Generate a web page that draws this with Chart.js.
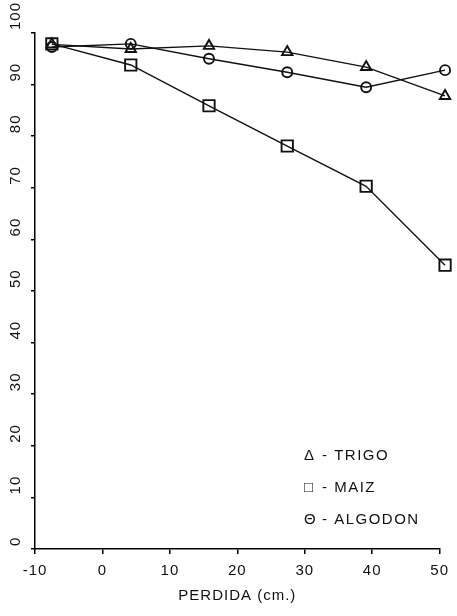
<!DOCTYPE html>
<html lang="es">
<head>
    <meta charset="UTF-8">
    <title>Perdida</title>
    <script src="https://cdn.jsdelivr.net/npm/chart.js"></script>
    <style>
        body { margin: 0; background: #fff; }
        #wrap { width: 457px; height: 616px; position: relative; }
    </style>
</head>
<body>
<div id="wrap"><canvas id="myCanvas"></canvas></div>
<script>
    // profundidad de perdida (cm.)
    const perdida = [-7.5, 4.2, 15.8, 27.4, 39.1, 50.8];
    const trigo   = [97.8, 96.9, 97.5, 96.3, 93.4, 87.8];
    const maiz    = [97.9, 93.8, 85.9, 78.1, 70.3, 55.0];
    const algodon = [97.3, 97.9, 95.0, 92.4, 89.5, 92.8];
    const yTicks  = [0, 10, 20, 30, 40, 50, 60, 70, 80, 90, 100];
    const leyenda = [['\u0394', '- TRIGO'], ['\u25A1', '- MAIZ'], ['\u0398', '- ALGODON']];

    const FONT = "'Liberation Sans', Arial, sans-serif";
    const INK = '#111';

    function pts(vals) {
        return vals.map((v, i) => ({ x: perdida[i], y: v }));
    }

    function serie(label, vals, style, radius) {
        return {
            label: label,
            data: pts(vals),
            borderColor: INK,
            borderWidth: 1.4,
            pointStyle: style,
            pointRadius: radius,
            pointHoverRadius: radius,
            pointBorderWidth: 1.9,
            pointBorderColor: INK,
            pointBackgroundColor: 'rgba(0,0,0,0)',
            tension: 0,
            clip: false
        };
    }

    // letter spacing like the typed original
    const spacing = {
        id: 'spacing',
        beforeLayout(chart) { chart.ctx.letterSpacing = '1px'; },
        beforeDraw(chart) { chart.ctx.letterSpacing = '1px'; }
    };

    // rotated y labels and the legend in the lower right
    const extras = {
        id: 'extras',
        afterDraw(chart) {
            const ctx = chart.ctx;
            const y = chart.scales.y;
            ctx.save();
            ctx.fillStyle = INK;
            ctx.font = '15px ' + FONT;
            ctx.letterSpacing = '1px';
            yTicks.forEach(v => {
                const py = y.getPixelForValue(v);
                ctx.save();
                ctx.translate(16, py - 3);
                ctx.rotate(-Math.PI / 2);
                ctx.textAlign = 'left';
                ctx.textBaseline = 'middle';
                ctx.fillText(String(v), 0, 0);
                ctx.restore();
            });
            ctx.textAlign = 'left';
            ctx.textBaseline = 'middle';
            ctx.letterSpacing = '1.5px';
            leyenda.forEach((row, i) => {
                const ly = 456 + i * 32;
                ctx.font = '15px ' + FONT + ", 'DejaVu Sans'";
                ctx.fillText(row[0], 304, ly);
                ctx.font = '15px ' + FONT;
                ctx.fillText(row[1], 322, ly);
            });
            ctx.restore();
        }
    };

    const ctx = document.getElementById('myCanvas').getContext('2d');
    const myChart = new Chart(ctx, {
        type: 'line',
        data: {
            datasets: [
                serie('TRIGO', trigo, 'triangle', 6),
                serie('MAIZ', maiz, 'rect', 8),
                serie('ALGODON', algodon, 'circle', 5)
            ]
        },
        options: {
            responsive: true,
            maintainAspectRatio: false,
            animation: false,
            events: [],
            layout: { padding: { top: 33, right: 17, bottom: 0, left: 0 } },
            plugins: {
                legend: { display: false },
                tooltip: { enabled: false }
            },
            scales: {
                x: {
                    type: 'linear',
                    min: -10,
                    max: 50,
                    ticks: { stepSize: 10, color: INK, padding: 8, font: { family: FONT, size: 15 } },
                    grid: { drawOnChartArea: false, drawTicks: true, tickLength: 5, color: '#000', lineWidth: 1.5 },
                    border: { display: true, color: '#000', width: 1.5 },
                    title: {
                        display: true,
                        text: 'PERDIDA (cm.)',
                        color: INK,
                        font: { family: FONT, size: 15 },
                        padding: { top: 4, bottom: 11 }
                    },
                    afterFit(s) { s.height = 67; }
                },
                y: {
                    min: 0,
                    max: 100,
                    ticks: { stepSize: 10, display: false },
                    grid: { drawOnChartArea: false, drawTicks: true, tickLength: 4, color: '#000', lineWidth: 1.5 },
                    border: { display: true, color: '#000', width: 1.5 },
                    afterFit(s) { s.width = 35; }
                }
            }
        },
        plugins: [spacing, extras]
    });
</script>
</body>
</html>
